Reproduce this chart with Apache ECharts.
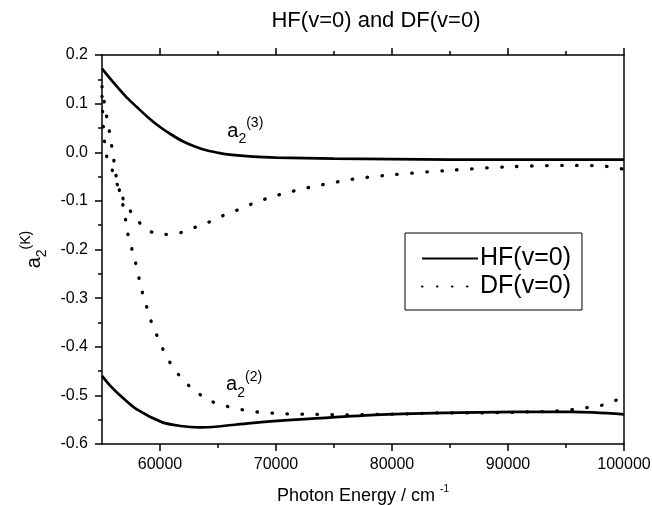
<!DOCTYPE html>
<html>
<head>
<meta charset="utf-8">
<script src="https://cdn.jsdelivr.net/npm/echarts@6/dist/echarts.min.js"></script>
<style>html,body{margin:0;padding:0;background:#fff}#c{width:652px;height:505px}</style>
</head>
<body>
<div id="c"></div>
<script>
// ---- data ----
var titleText = 'HF(v=0) and DF(v=0)';
var xMajorTicks = [60000, 70000, 80000, 90000, 100000];
var xMinorTicks = [65000, 75000, 85000, 95000];
// HF(v=0), a2(3) — solid
var hfA3 = [[55000,0.172],[56000,0.143],[57000,0.116],[58000,0.093],[59000,0.071],[60000,0.052],[61000,0.036],[62000,0.022],[63000,0.012],[64000,0.004],[65000,-0.001],[66000,-0.005],[68000,-0.009],[70000,-0.011],[75000,-0.013],[80000,-0.014],[85000,-0.015],[90000,-0.015],[95000,-0.015],[100000,-0.015]];
// HF(v=0), a2(2) — solid
var hfA2 = [[55000,-0.460],[55700,-0.480],[56470,-0.498],[58010,-0.529],[60160,-0.555],[61800,-0.563],[63300,-0.566],[65000,-0.564],[67840,-0.557],[72450,-0.549],[78590,-0.540],[84730,-0.536],[90870,-0.534],[95480,-0.534],[100000,-0.539]];
// DF(v=0), a2(3) — dotted
var dfA3 = [[55000,0.115],[55150,0.040],[55400,-0.008],[55920,-0.039],[56400,-0.072],[56980,-0.103],[57850,-0.134],[59000,-0.161],[60360,-0.169],[61680,-0.166],[62950,-0.155],[64190,-0.144],[65460,-0.130],[66760,-0.118],[68050,-0.105],[69350,-0.094],[70640,-0.085],[72020,-0.077],[73290,-0.070],[74610,-0.064],[75970,-0.058],[77260,-0.053],[78550,-0.050],[79700,-0.047],[85000,-0.037],[90000,-0.030],[95000,-0.027],[98000,-0.028],[100000,-0.035]];
// DF(v=0), a2(2) — dotted
var dfA2 = [[55000,0.135],[55115,0.120],[55260,0.090],[55545,0.057],[55750,0.024],[55975,-0.007],[56120,-0.037],[56400,-0.068],[56700,-0.099],[56980,-0.127],[57120,-0.157],[57860,-0.224],[58410,-0.282],[58780,-0.312],[59180,-0.344],[59700,-0.375],[60250,-0.405],[60930,-0.435],[61940,-0.467],[63140,-0.493],[64400,-0.512],[65690,-0.522],[66980,-0.529],[68300,-0.534],[70910,-0.538],[73520,-0.539],[76130,-0.540],[78740,-0.539],[81350,-0.538],[83960,-0.536],[87800,-0.536],[91800,-0.534],[94250,-0.532],[95640,-0.529],[96870,-0.525],[98160,-0.520],[99420,-0.509],[100000,-0.503]];
// annotation anchors (data coordinates)
var annA3 = [65800, 0.043];
var annA2 = [65700, -0.478];

var FONT = 'Liberation Sans, Arial, sans-serif';
var chart = echarts.init(document.getElementById('c'));
var solid = {color:'#000', width:2.7};
var dotted = {color:'#000', width:3.3, type:[0.5,14.5], cap:'round'};
var supRich = {
  a:{fontSize:20, fontFamily:FONT, color:'#000', lineHeight:30, verticalAlign:'middle'},
  sub:{fontSize:14, fontFamily:FONT, color:'#000', verticalAlign:'bottom', lineHeight:30},
  sup:{fontSize:14, fontFamily:FONT, color:'#000', verticalAlign:'top', lineHeight:30}
};
function baseX(pos, ticks, len, showLabel, showLine){
  return {type:'value', min:55000, max:100000, position:pos, gridIndex:0,
    axisLine:{show:showLine, onZero:false, lineStyle:{color:'#000', width:1.5}},
    axisTick:{show:true, customValues:ticks, length:len, inside:false, lineStyle:{color:'#000', width:1.5}},
    axisLabel:{show:showLabel, customValues:ticks, formatter:function(v){return String(v);}, color:'#000', fontSize:16, fontFamily:FONT, margin:13},
    splitLine:{show:false}};
}
var x0 = baseX('bottom', xMajorTicks, 7, true, true);
x0.name = 'Photon Energy / cm {sup|-1}';
x0.nameLocation = 'middle';
x0.nameGap = 40;
x0.nameTextStyle = {fontSize:18, fontFamily:FONT, color:'#000', lineHeight:24, rich:{sup:{fontSize:10, fontFamily:FONT, color:'#000', verticalAlign:'top', lineHeight:24}}};
var option = {
  animation:false,
  backgroundColor:'#fff',
  title:{text:titleText, left:371, textAlign:'center', top:5, textStyle:{fontSize:22, fontWeight:'normal', fontFamily:FONT, color:'#000'}},
  grid:{left:102, right:28, top:55, bottom:61, outerBoundsMode:'none', containLabel:false},
  legend:{data:['HF(v=0)','DF(v=0)'], orient:'vertical', left:405, top:233, padding:[13,11,11,16], itemGap:3,
    itemWidth:56, itemHeight:20, borderColor:'#000', borderWidth:1,
    itemStyle:{color:'rgba(0,0,0,0)', borderWidth:0, opacity:0},
    textStyle:{fontSize:25, fontFamily:FONT, color:'#000', padding:[0,0,0,-3]}},
  xAxis:[
    x0,
    baseX('bottom', xMinorTicks, 4, false, false),
    baseX('top', xMajorTicks, 7, false, true),
    baseX('top', xMinorTicks, 4, false, false)
  ],
  yAxis:[
    {type:'value', min:-0.6, max:0.2, interval:0.1, position:'left',
      axisLine:{show:true, onZero:false, lineStyle:{color:'#000', width:1.5}},
      axisTick:{show:true, length:7, lineStyle:{color:'#000', width:1.5}},
      minorTick:{show:true, splitNumber:2, length:4, lineStyle:{color:'#000', width:1.5}},
      axisLabel:{formatter:function(v){return v.toFixed(1);}, color:'#000', fontSize:16, fontFamily:FONT, margin:14},
      splitLine:{show:false},
      name:'{a|a}{sub|2}{sup|(K)}', nameLocation:'middle', nameGap:48, nameRotate:90,
      nameTextStyle:{rich:supRich}},
    {type:'value', min:-0.6, max:0.2, interval:0.1, position:'right',
      axisLine:{show:true, onZero:false, lineStyle:{color:'#000', width:1.5}},
      axisTick:{show:false}, axisLabel:{show:false}, splitLine:{show:false}}
  ],
  series:[
    {name:'HF(v=0)', type:'line', data:hfA3, showSymbol:false, symbol:'none', smooth:0.3, lineStyle:solid, itemStyle:{color:'#000'}},
    {name:'HF(v=0)', type:'line', data:hfA2, showSymbol:false, symbol:'none', smooth:0.3, lineStyle:solid, itemStyle:{color:'#000'}},
    {name:'DF(v=0)', type:'line', data:dfA3, showSymbol:false, symbol:'none', smooth:0.3, lineStyle:dotted, itemStyle:{color:'#000'}},
    {name:'DF(v=0)', type:'line', data:dfA2, showSymbol:false, symbol:'none', smooth:0.3, lineStyle:dotted, itemStyle:{color:'#000'}}
  ]
};
chart.setOption(option);
var p3 = chart.convertToPixel({xAxisIndex:0, yAxisIndex:0}, annA3);
var p2 = chart.convertToPixel({xAxisIndex:0, yAxisIndex:0}, annA2);
chart.setOption({graphic:[
  {type:'text', x:p3[0], y:p3[1], style:{text:'{a|a}{sub|2}{sup|(3)}', rich:supRich, align:'left', verticalAlign:'middle'}},
  {type:'text', x:p2[0], y:p2[1], style:{text:'{a|a}{sub|2}{sup|(2)}', rich:supRich, align:'left', verticalAlign:'middle'}}
]});
</script>
</body>
</html>
